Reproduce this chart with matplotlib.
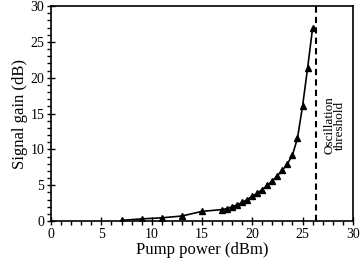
import matplotlib
matplotlib.use("Agg")
import matplotlib.pyplot as plt
from matplotlib.ticker import MultipleLocator

pump_power = [7, 9, 11, 13, 15, 17, 17.5, 18, 18.5, 19, 19.5, 20, 20.5, 21, 21.5,
              22, 22.5, 23, 23.5, 24, 24.5, 25, 25.5, 26]
signal_gain = [0.1, 0.3, 0.45, 0.7, 1.35, 1.6, 1.75, 2.0, 2.25, 2.6, 3.0, 3.45, 3.9,
               4.4, 5.0, 5.6, 6.35, 7.1, 8.0, 9.2, 11.6, 16.0, 21.3, 26.9]
threshold = 26.3
threshold_label = "Oscillation\nthreshold"

plt.rcParams['font.family'] = ['Liberation Serif', 'DejaVu Serif']
fig = plt.figure(figsize=(3.6, 2.66), dpi=100)
ax = fig.add_axes([0.142, 0.169, 0.838, 0.808])

ax.plot(pump_power, signal_gain, color='black', lw=1.2, marker='^', ms=3.8)
ax.axvline(threshold, color='black', lw=1.5, ls=(0, (3, 2)))
ax.text(28.2, 13.4, threshold_label, rotation=90, ha='center', va='center',
        fontsize=9.5, linespacing=0.85)

ax.set_xlim(0, 30)
ax.set_ylim(0, 30)
ax.xaxis.set_major_locator(MultipleLocator(5))
ax.xaxis.set_minor_locator(MultipleLocator(1))
ax.yaxis.set_major_locator(MultipleLocator(5))
ax.yaxis.set_minor_locator(MultipleLocator(1))
ax.tick_params(which='major', direction='inout', length=6, width=1, labelsize=10, pad=2)
ax.tick_params(which='minor', direction='out', length=3, width=1)
for s in ax.spines.values():
    s.set_linewidth(1.2)
ax.set_xlabel("Pump power (dBm)", fontsize=12, labelpad=1)
ax.set_ylabel("Signal gain (dB)", fontsize=12, labelpad=2)

fig.savefig("out.png", dpi=100)
